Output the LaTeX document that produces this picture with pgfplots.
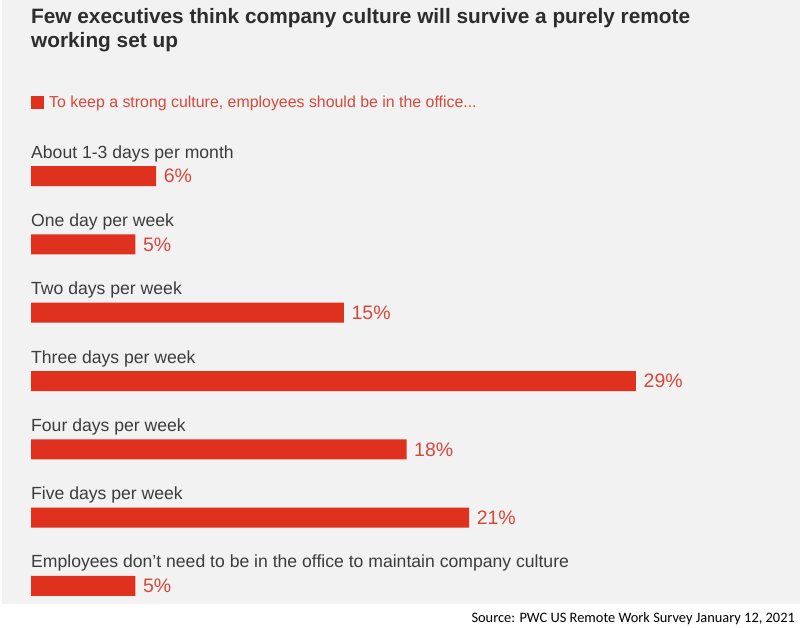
\documentclass[border=0pt]{standalone}
\usepackage{pgfplots}
\pgfplotsset{compat=1.18}
\usepackage{fontspec}
\setmainfont{Liberation Sans}
\newfontfamily\srcfont{Carlito}
\definecolor{panel}{HTML}{F2F2F2}
\definecolor{barred}{HTML}{E0301E}
\definecolor{valred}{HTML}{D9473B}
\definecolor{titlegray}{HTML}{2D2D2D}
\definecolor{labgray}{HTML}{3C3C3C}
\begin{document}
\begin{tikzpicture}
\path[use as bounding box] (0,0) rectangle (800pt,-627pt);
\fill[panel] (2pt,0) rectangle (800pt,-604pt);
\node[anchor=base west, inner sep=0pt, font=\fontsize{20.8pt}{24.5pt}\selectfont\bfseries, text=titlegray] at (31pt,-23pt)
 {Few executives think company culture will survive a purely remote};
\node[anchor=base west, inner sep=0pt, font=\fontsize{20.8pt}{24.5pt}\selectfont\bfseries, text=titlegray] at (31pt,-47.5pt)
 {working set up};
\begin{axis}[
  at={(31pt,-620pt)}, anchor=south west,
  scale only axis, width=751pt, height=478pt,
  xmin=0, xmax=36, ymin=-0.5, ymax=6.5, y dir=reverse,
  hide axis, clip=false,
  xbar, bar width=20pt,
  /pgf/number format/assume math mode=true,
  nodes near coords={\pgfmathprintnumber{\pgfplotspointmeta}\%},
  nodes near coords style={font=\fontsize{19.5pt}{21pt}\selectfont, text=valred, anchor=west, inner xsep=7.5pt, inner ysep=0pt},
  legend style={at={(0,1.0837)}, anchor=west, draw=none, fill=none, inner sep=0pt,
    font=\fontsize{15.9pt}{17pt}\selectfont, text=valred, legend cell align=left,
    nodes={inner xsep=5pt}},
  legend image code/.code={\fill[barred] (0pt,-6.5pt) rectangle (13pt,6.5pt);},
]
\addplot[fill=barred, draw=none] coordinates {(6,0) (5,1) (15,2) (29,3) (18,4) (21,5) (5,6)};
\addlegendentry{To keep a strong culture, employees should be in the office...}
\foreach \i/\t in {0/About 1-3 days per month, 1/One day per week, 2/Two days per week, 3/Three days per week, 4/Four days per week, 5/Five days per week, 6/Employees don’t need to be in the office to maintain company culture} {
  \edef\tmp{\noexpand\node[anchor=base west, inner sep=0pt, font=\noexpand\fontsize{17.6pt}{19pt}\noexpand\selectfont, text=labgray, yshift=18pt] at (axis cs:0,\i) {\t};}
  \tmp
}
\end{axis}
\node[anchor=base east, inner sep=0pt, font=\srcfont\fontsize{14.4pt}{16pt}\selectfont, text=black] at (795pt,-622pt) {Source: PWC US Remote Work Survey January 12, 2021};
\end{tikzpicture}
\end{document}
